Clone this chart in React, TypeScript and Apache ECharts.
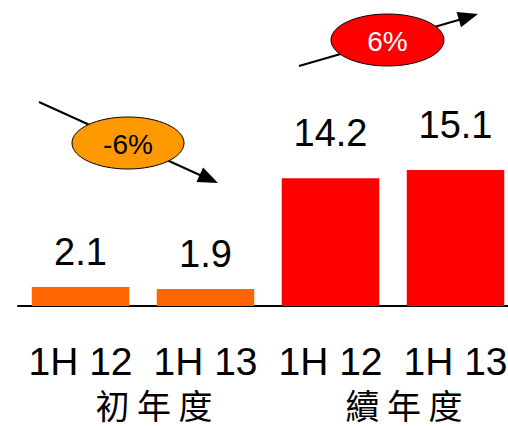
import React, { useEffect, useRef } from "react";
import * as echarts from "echarts";

const categories = ["1H 12", "1H 13", "1H 12", "1H 13"];
const groupLabels = ["初年度", "續年度"];
const values = [2.1, 1.9, 14.2, 15.1];
const barColors = ["#FF6600", "#FF6600", "#FF0000", "#FF0000"];
const labelDistances = [16, 16, 26, 26];
const changeLabels = ["-6%", "6%"];

export default function App() {
  const ref = useRef<HTMLDivElement>(null);
  useEffect(() => {
    if (!ref.current) return;
    const chart = echarts.init(ref.current, null, { renderer: "svg" });
    const latin = '"Liberation Sans", Arial, Helvetica, sans-serif';
    const cjk = '"Noto Sans CJK TC", "Noto Sans CJK SC", sans-serif';
    chart.setOption({
      animation: false,
      backgroundColor: "#ffffff",
      grid: { left: 18, width: 500, top: 36, bottom: 120, containLabel: false, outerBoundsMode: "none" },
      xAxis: [
        {
          type: "category",
          data: categories,
          axisLine: { show: true, lineStyle: { color: "#000", width: 2 } },
          axisTick: { show: false },
          axisLabel: {
            color: "#000",
            fontFamily: latin,
            fontSize: 39,
            lineHeight: 40,
            margin: 35,
            interval: 0,
            hideOverlap: false,
          },
        },
        {
          type: "category",
          data: groupLabels.map((g) => g.split("").join(" ")),
          position: "bottom",
          axisLine: { show: false },
          axisTick: { show: false },
          axisLabel: {
            color: "#000",
            fontFamily: cjk,
            fontSize: 34,
            lineHeight: 36,
            margin: 80,
            interval: 0,
            padding: [0, 0, 0, 22],
          },
        },
      ],
      yAxis: { type: "value", min: 0, max: 30, show: false, splitLine: { show: false } },
      series: [
        {
          type: "bar",
          xAxisIndex: 0,
          barWidth: "78%",
          data: values.map((v, i) => ({
            value: v,
            itemStyle: { color: barColors[i] },
            label: { distance: labelDistances[i] },
          })),
          label: {
            show: true,
            position: "top",
            color: "#000",
            fontFamily: latin,
            fontSize: 38,
            lineHeight: 38,
          },
        },
      ],
      graphic: [
        { type: "line", z: 10, shape: { x1: 39, y1: 102, x2: 202, y2: 176 }, style: { stroke: "#000", lineWidth: 2 } },
        { type: "polygon", z: 10, shape: { points: [[218, 183], [196.5, 182.1], [203.1, 167.5]] }, style: { fill: "#000" } },
        { type: "ellipse", z: 11, shape: { cx: 128, cy: 143, rx: 56, ry: 26 }, style: { fill: "#FF9900", stroke: "#000", lineWidth: 1 } },
        { type: "text", z: 12, style: { text: changeLabels[0], x: 128, y: 144, align: "center", verticalAlign: "middle", fill: "#000", font: '28px "Liberation Sans", Arial, sans-serif' } },
        { type: "line", z: 10, shape: { x1: 299, y1: 66, x2: 462, y2: 19 }, style: { stroke: "#000", lineWidth: 2 } },
        { type: "polygon", z: 10, shape: { points: [[478, 14], [461, 27.3], [456.6, 11.9]] }, style: { fill: "#000" } },
        { type: "ellipse", z: 11, shape: { cx: 387.5, cy: 40, rx: 56.5, ry: 26 }, style: { fill: "#FF0000", stroke: "#000", lineWidth: 1 } },
        { type: "text", z: 12, style: { text: changeLabels[1], x: 387.5, y: 41, align: "center", verticalAlign: "middle", fill: "#fff", font: '28px "Liberation Sans", Arial, sans-serif' } },
      ],
    });
    return () => chart.dispose();
  }, []);
  return <div ref={ref} style={{ position: "fixed", left: 0, top: 0, width: 508, height: 426 }} />;
}
